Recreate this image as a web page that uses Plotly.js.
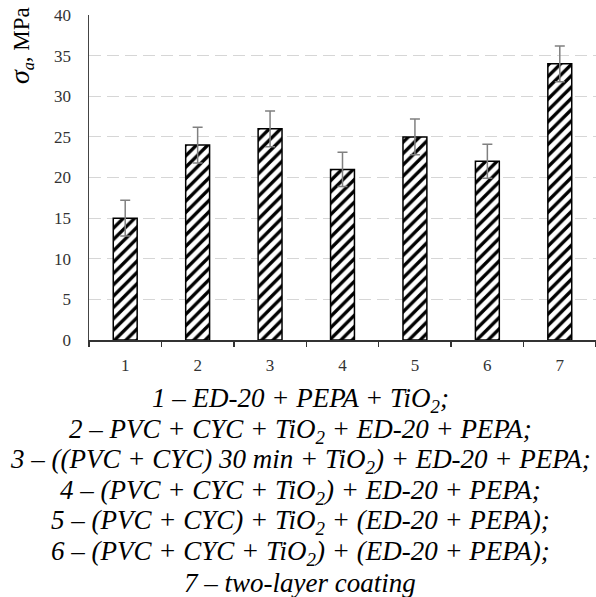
<!DOCTYPE html>
<html><head><meta charset="utf-8">
<script src="https://cdn.plot.ly/plotly-3.0.1.min.js"></script>
<style>html,body{margin:0;padding:0;background:#fff;}#chart{width:596px;height:597px;}</style>
</head><body><div id="chart"></div>
<script>
const categories = ['1','2','3','4','5','6','7'];
const values = [15, 24, 26, 21, 25, 22, 34];
const errors = [2.2, 2.2, 2.2, 2.1, 2.2, 2.1, 2.2];
const yTicks = [0,5,10,15,20,25,30,35,40];
const legendLines = [
  '1 – ED-20 + PEPA + TiO<sub>2</sub>;',
  '2 – PVC + CYC + TiO<sub>2</sub> + ED-20 + PEPA;',
  '3 – ((PVC + CYC) 30 min + TiO<sub>2</sub>) + ED-20 + PEPA;',
  '4 – (PVC + CYC + TiO<sub>2</sub>) + ED-20 + PEPA;',
  '5 – (PVC + CYC) + TiO<sub>2</sub> + (ED-20 + PEPA);',
  '6 – (PVC + CYC + TiO<sub>2</sub>) + (ED-20 + PEPA);',
  '7 – two-layer coating'
];
const serif = '"Liberation Serif", "Times New Roman", Times, serif';
const trace = {
  type: 'bar', x: categories, y: values, width: 0.33,
  marker: {color: '#fff', line: {color: '#000', width: 1.5},
    pattern: {shape: '/', fgcolor: '#000', bgcolor: '#fff', size: 8, solidity: 0.42}},
  error_y: {type: 'data', array: errors, visible: true, color: '#808080', thickness: 1.5, width: 5}
};
const PH = 597, plotTop = 15, plotBottom = 340, plotLeft = 89, plotW = 596 - 89;
const annotations = legendLines.map((t, i) => ({
  text: '<i>' + t + '</i>', xref: 'paper', yref: 'paper',
  x: (300 - plotLeft) / plotW, y: (plotBottom - (400 + i * 30.5)) / (plotBottom - plotTop),
  xanchor: 'center', yanchor: 'middle', showarrow: false,
  font: {family: serif, size: 27, color: '#000'}
}));
annotations.push({
  text: '<i><span style="font-size:28px">σ</span><sub>a</sub></i>, MPa', xref: 'paper', yref: 'paper',
  x: (20 - plotLeft) / plotW, y: (plotBottom - 46) / (plotBottom - plotTop), textangle: -90,
  xanchor: 'center', yanchor: 'middle', showarrow: false,
  font: {family: serif, size: 23, color: '#000'}
});
const layout = {
  width: 596, height: 597,
  font: {family: serif},
  margin: {l: plotLeft, r: 0, t: plotTop, b: PH - plotBottom},
  paper_bgcolor: '#fff', plot_bgcolor: '#fff', showlegend: false,
  xaxis: {type: 'category', range: [-0.5, 6.5], tickson: 'boundaries', ticks: 'outside',
    ticklen: 5, tickwidth: 1.5, tickcolor: '#333', showline: true, linecolor: '#333', linewidth: 1.5,
    showgrid: false, tickfont: {family: serif, size: 17, color: '#333'}, ticklabelstandoff: 9},
  yaxis: {range: [0, 40], tickvals: yTicks, showline: true, linecolor: '#444', linewidth: 1.5,
    ticks: '', showgrid: true, gridcolor: '#d6d6d6', griddash: '12px,6px', gridwidth: 1.2,
    zeroline: false, tickfont: {family: serif, size: 17, color: '#333'}, ticklabelstandoff: 13},
  annotations: annotations
};
Plotly.newPlot('chart', [trace], layout, {displayModeBar: false, staticPlot: true});
</script></body></html>
